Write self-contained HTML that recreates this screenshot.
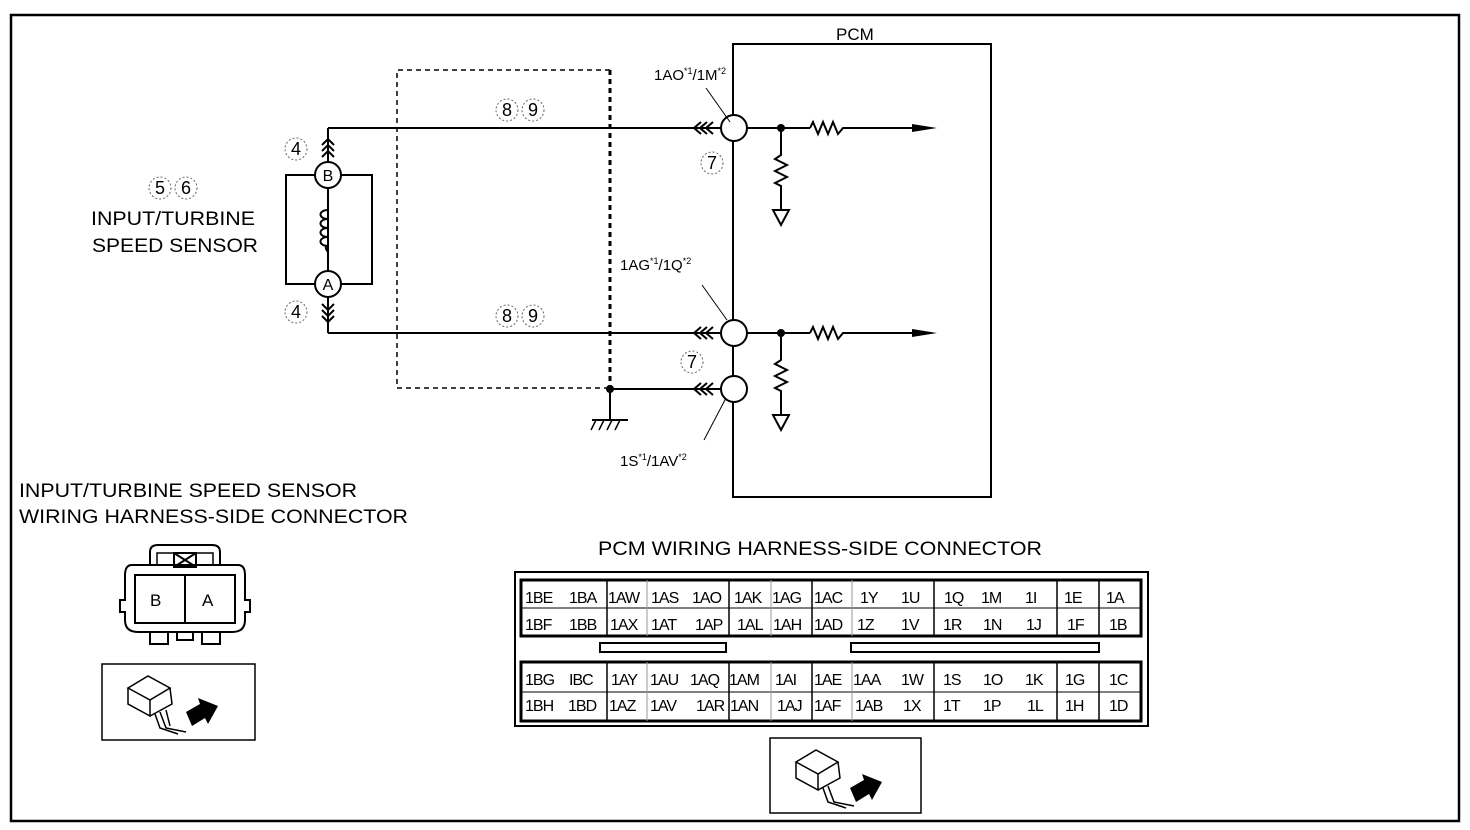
<!DOCTYPE html>
<html><head><meta charset="utf-8"><style>
body{margin:0;background:#fff}
svg{display:block}
text{font-family:"Liberation Sans",Arial,sans-serif;fill:#000}
</style></head><body>
<svg width="1470" height="830" viewBox="0 0 1470 830" xmlns="http://www.w3.org/2000/svg">
<rect x="11" y="15" width="1448" height="806" fill="none" stroke="#000" stroke-width="2.5"/>
<!-- PCM box -->
<text x="836" y="40" font-size="17">PCM</text>
<polyline points="733,115 733,44 991,44 991,497 733,497 733,402" fill="none" stroke="#000" stroke-width="2"/>
<line x1="733" y1="141" x2="733" y2="320" stroke="#000" stroke-width="2"/>
<line x1="733" y1="346" x2="733" y2="376" stroke="#000" stroke-width="2"/>
<g fill="#fff" stroke="#000" stroke-width="2">
<circle cx="734" cy="128" r="13"/><circle cx="734" cy="333" r="13"/><circle cx="734" cy="389" r="13"/>
</g>
<!-- wires -->
<g stroke="#000" stroke-width="2" fill="none">
<line x1="328" y1="128" x2="720" y2="128"/>
<line x1="328" y1="333" x2="720" y2="333"/>
<line x1="610" y1="389" x2="720" y2="389"/>
<line x1="328" y1="128" x2="328" y2="333"/>
<polyline points="701,122 694,128 701,134"/><polyline points="707,122 700,128 707,134"/><polyline points="713,122 706,128 713,134"/>
<polyline points="701,327 694,333 701,339"/><polyline points="707,327 700,333 707,339"/><polyline points="713,327 706,333 713,339"/>
<polyline points="701,383 694,389 701,395"/><polyline points="707,383 700,389 707,395"/><polyline points="713,383 706,389 713,395"/>
<polyline points="322,145 328,139 334,145"/><polyline points="322,151 328,145 334,151"/><polyline points="322,157 328,151 334,157"/>
<polyline points="322,304 328,310 334,304"/><polyline points="322,310 328,316 334,310"/><polyline points="322,316 328,322 334,316"/>
<line x1="747" y1="128" x2="810" y2="128"/><polyline points="810,128 813,122 818,134 823,122 828,134 833,122 838,134 843,128 920,128"/>
<line x1="747" y1="333" x2="810" y2="333"/><polyline points="810,333 813,327 818,339 823,327 828,339 833,327 838,339 843,333 920,333"/>
<polyline points="781,128 781,155 775,159 787,165 775,171 787,177 775,183 781,186 781,210"/>
<polyline points="781,333 781,360 775,364 787,370 775,376 787,382 775,388 781,391 781,415"/>
<polygon points="773,210 789,210 781,225"/><polygon points="773,415 789,415 781,430"/>
<rect x="286" y="175" width="86" height="109"/>
<line x1="328" y1="187" x2="328" y2="210"/><line x1="328" y1="252" x2="328" y2="272"/>
<path d="M328,210 c-10,0 -10,9 0,9 c-10,0 -10,9 0,9 c-10,0 -10,9 0,9 c-10,0 -10,9 0,9 c-5,0 0,6 0,6" />
<polyline points="610,70 397,70 397,388 610,388" stroke-width="1.5" stroke-dasharray="5,4"/>
<line x1="610" y1="70" x2="610" y2="389" stroke-width="3" stroke-dasharray="5,4"/>
<line x1="610" y1="389" x2="610" y2="420"/><line x1="592" y1="420" x2="628" y2="420"/>
<line x1="596" y1="420" x2="591" y2="430" stroke-width="1.5"/><line x1="604" y1="420" x2="599" y2="430" stroke-width="1.5"/><line x1="612" y1="420" x2="607" y2="430" stroke-width="1.5"/><line x1="620" y1="420" x2="615" y2="430" stroke-width="1.5"/>
<line x1="706" y1="88" x2="730" y2="122" stroke-width="1"/>
<line x1="702" y1="285" x2="727" y2="320" stroke-width="1"/>
<line x1="704" y1="440" x2="726" y2="398" stroke-width="1"/>
</g>
<g fill="#000"><circle cx="781" cy="128" r="4"/><circle cx="781" cy="333" r="4"/><circle cx="610" cy="389" r="4"/>
<polygon points="912,124 937,128 912,132"/><polygon points="912,329 937,333 912,337"/></g>
<g fill="#fff" stroke="#000" stroke-width="2"><circle cx="328" cy="175" r="13"/><circle cx="328" cy="284" r="13"/></g>
<text x="328" y="181" font-size="16" text-anchor="middle">B</text>
<text x="328" y="290" font-size="16" text-anchor="middle">A</text>
<!-- circled numbers -->
<g fill="none" stroke="#666" stroke-width="1" stroke-dasharray="2,2">
<circle cx="296" cy="149" r="11"/><circle cx="296" cy="312" r="11"/>
<circle cx="507" cy="110" r="11"/><circle cx="533" cy="110" r="11"/>
<circle cx="507" cy="316" r="11"/><circle cx="533" cy="316" r="11"/>
<circle cx="712" cy="163" r="11"/><circle cx="692" cy="362" r="11"/>
<circle cx="160" cy="188" r="11"/><circle cx="186" cy="188" r="11"/>
</g>
<g font-size="18" text-anchor="middle">
<text x="296" y="155">4</text><text x="296" y="318">4</text>
<text x="507" y="116">8</text><text x="533" y="116">9</text>
<text x="507" y="322">8</text><text x="533" y="322">9</text>
<text x="712" y="169">7</text><text x="692" y="368">7</text>
<text x="160" y="194">5</text><text x="186" y="194">6</text>
</g>
<g font-size="19">
<text x="91" y="225" textLength="164" lengthAdjust="spacingAndGlyphs">INPUT/TURBINE</text>
<text x="92" y="252" textLength="166" lengthAdjust="spacingAndGlyphs">SPEED SENSOR</text>
<text x="19" y="497" textLength="338" lengthAdjust="spacingAndGlyphs">INPUT/TURBINE SPEED SENSOR</text>
<text x="19" y="523" textLength="389" lengthAdjust="spacingAndGlyphs">WIRING HARNESS-SIDE CONNECTOR</text>
<text x="598" y="555" textLength="444" lengthAdjust="spacingAndGlyphs">PCM WIRING HARNESS-SIDE CONNECTOR</text>
</g>
<g font-size="15">
<text x="654" y="80">1AO<tspan font-size="9" dy="-6">*1</tspan><tspan dy="6">/1M</tspan><tspan font-size="9" dy="-6">*2</tspan></text>
<text x="620" y="270">1AG<tspan font-size="9" dy="-6">*1</tspan><tspan dy="6">/1Q</tspan><tspan font-size="9" dy="-6">*2</tspan></text>
<text x="620" y="466">1S<tspan font-size="9" dy="-6">*1</tspan><tspan dy="6">/1AV</tspan><tspan font-size="9" dy="-6">*2</tspan></text>
</g>
<!-- sensor connector -->
<g fill="none" stroke="#000" stroke-width="2">
<path d="M150,565 L150,552 Q150,545 158,545 L212,545 Q220,545 220,552 L220,565"/>
<path d="M157,565 L157,553 L213,553 L213,565" stroke-width="1.5"/>
<rect x="174" y="553" width="22" height="14" fill="#fff"/><line x1="174" y1="553" x2="196" y2="567"/><line x1="196" y1="553" x2="174" y2="567"/>
<path d="M132,565 L238,565 Q245,565 245,575 L245,600 L250,600 L250,612 L245,612 L245,620 Q245,632 232,632 L138,632 Q125,632 125,620 L125,612 L120,612 L120,600 L125,600 L125,575 Q125,565 132,565 Z"/>
<rect x="135" y="575" width="100" height="48"/>
<line x1="185" y1="575" x2="185" y2="623"/>
<rect x="150" y="632" width="18" height="12"/><rect x="177" y="632" width="16" height="8"/><rect x="202" y="632" width="18" height="12"/>
</g>
<text x="150" y="606" font-size="17">B</text><text x="202" y="606" font-size="17">A</text>
<!-- icon boxes -->
<g fill="none" stroke="#000">
<rect x="102" y="664" width="153" height="76" stroke-width="1.5"/>
<rect x="770" y="738" width="151" height="75" stroke-width="1.5"/>
<g stroke-width="1.5">
<path d="M128,688 L148,676 L170,688 L150,700 Z"/><path d="M128,688 L128,704 L150,716 L150,700"/><path d="M150,716 L172,704 L170,688"/>
<path d="M155,714 L160,728 L178,734 M160,712 L166,728 L186,732 M166,710 L170,726"/>
</g>
<path d="M796,762 L816,750 L838,762 L818,774 Z M796,762 L796,778 L818,790 L818,774 M818,790 L840,778 L838,762 M823,788 L828,802 L846,808 M828,786 L834,802 L854,806" stroke-width="1.5"/>
</g>
<g fill="#000"><polygon points="186,712 200,704 198,698 218,706 208,724 205,718 192,726"/>
<polygon points="850,788 864,780 862,774 882,782 872,800 869,794 856,802"/></g>
<!-- PCM connector table -->
<g fill="none" stroke="#000">
<rect x="515" y="572" width="633" height="154" stroke-width="2"/>
<rect x="521" y="580" width="620" height="56" stroke-width="3"/>
<rect x="521" y="662" width="620" height="59" stroke-width="3"/>
<line x1="521" y1="608" x2="1141" y2="608" stroke-width="1"/>
<line x1="521" y1="692" x2="1141" y2="692" stroke-width="1"/>
<rect x="600" y="643" width="126" height="9" stroke-width="2"/>
<rect x="851" y="643" width="248" height="9" stroke-width="2"/>
<g stroke-width="1.5">
<line x1="607" y1="580" x2="607" y2="636"/><line x1="729" y1="580" x2="729" y2="636"/><line x1="812" y1="580" x2="812" y2="636"/><line x1="934" y1="580" x2="934" y2="636"/><line x1="1057" y1="580" x2="1057" y2="636"/><line x1="1099" y1="580" x2="1099" y2="636"/>
<line x1="607" y1="662" x2="607" y2="721"/><line x1="729" y1="662" x2="729" y2="721"/><line x1="812" y1="662" x2="812" y2="721"/><line x1="934" y1="662" x2="934" y2="721"/><line x1="1057" y1="662" x2="1057" y2="721"/><line x1="1099" y1="662" x2="1099" y2="721"/>
</g>
<g stroke="#999" stroke-width="1"><line x1="647" y1="580" x2="647" y2="636"/><line x1="771" y1="580" x2="771" y2="636"/><line x1="852" y1="580" x2="852" y2="636"/>
<line x1="647" y1="662" x2="647" y2="721"/><line x1="771" y1="662" x2="771" y2="721"/><line x1="852" y1="662" x2="852" y2="721"/></g>
</g>
<g font-size="16" letter-spacing="-1">
<text y="603"><tspan x="525">1BE</tspan><tspan x="569">1BA</tspan><tspan x="608">1AW</tspan><tspan x="651">1AS</tspan><tspan x="692">1AO</tspan><tspan x="734">1AK</tspan><tspan x="772">1AG</tspan><tspan x="814">1AC</tspan><tspan x="860">1Y</tspan><tspan x="901">1U</tspan><tspan x="944">1Q</tspan><tspan x="981">1M</tspan><tspan x="1025">1I</tspan><tspan x="1064">1E</tspan><tspan x="1106">1A</tspan></text>
<text y="630"><tspan x="525">1BF</tspan><tspan x="569">1BB</tspan><tspan x="610">1AX</tspan><tspan x="651">1AT</tspan><tspan x="695">1AP</tspan><tspan x="737">1AL</tspan><tspan x="773">1AH</tspan><tspan x="814">1AD</tspan><tspan x="857">1Z</tspan><tspan x="901">1V</tspan><tspan x="943">1R</tspan><tspan x="983">1N</tspan><tspan x="1026">1J</tspan><tspan x="1067">1F</tspan><tspan x="1109">1B</tspan></text>
<text y="685"><tspan x="525">1BG</tspan><tspan x="569">IBC</tspan><tspan x="611">1AY</tspan><tspan x="650">1AU</tspan><tspan x="690">1AQ</tspan><tspan x="729">1AM</tspan><tspan x="775">1AI</tspan><tspan x="814">1AE</tspan><tspan x="853">1AA</tspan><tspan x="901">1W</tspan><tspan x="943">1S</tspan><tspan x="983">1O</tspan><tspan x="1025">1K</tspan><tspan x="1065">1G</tspan><tspan x="1109">1C</tspan></text>
<text y="711"><tspan x="525">1BH</tspan><tspan x="568">1BD</tspan><tspan x="609">1AZ</tspan><tspan x="650">1AV</tspan><tspan x="696">1AR</tspan><tspan x="730">1AN</tspan><tspan x="777">1AJ</tspan><tspan x="814">1AF</tspan><tspan x="855">1AB</tspan><tspan x="903">1X</tspan><tspan x="943">1T</tspan><tspan x="983">1P</tspan><tspan x="1027">1L</tspan><tspan x="1065">1H</tspan><tspan x="1109">1D</tspan></text>
</g>
</svg>
</body></html>
